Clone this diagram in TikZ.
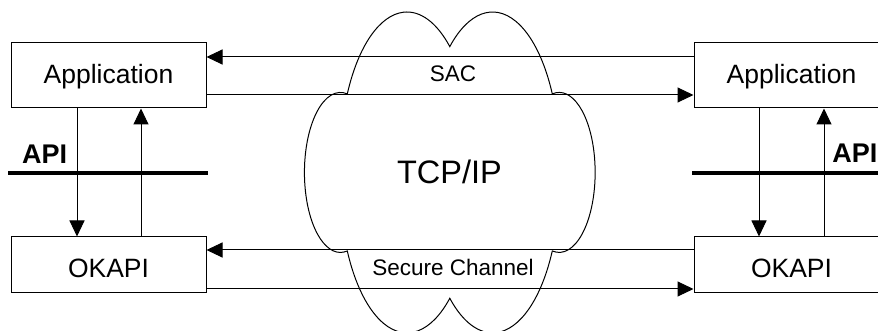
\documentclass[tikz,border=0pt]{standalone}
\usepackage{fontspec}
\setmainfont{Liberation Sans}
\usetikzlibrary{arrows.meta}
\begin{document}
\begin{tikzpicture}[x=1pt,y=1pt,
  box/.style={draw, line width=1pt, minimum width=195pt, inner sep=0pt,
    text depth=0pt, font=\fontsize{26.5}{30}\selectfont},
  appbox/.style={box, minimum height=65pt, text height=17pt},
  okbox/.style={box, minimum height=56pt, text height=26pt},
  arr/.style={line width=1pt, -{Triangle[length=16pt,width=15pt]}},
  apiline/.style={line width=4.3pt},
  chan/.style={anchor=base, inner sep=0pt, font=\fontsize{22.5}{26}\selectfont},
  apitext/.style={inner sep=0pt, font=\bfseries\fontsize{27}{31}\selectfont},
  lobe/.style={x radius=67, y radius=150},
  side/.style={x radius=36, y radius=80},
]
\useasboundingbox (0,0) rectangle (878,331);
\clip (0,0) rectangle (878,331);

% end systems
\node[appbox] (appL) at (108.5,255.5) {Application};
\node[okbox]  (okL)  at (108.5,66)    {OKAPI};
\node[appbox] (appR) at (791.5,255.5) {Application};
\node[okbox]  (okR)  at (791.5,66)    {OKAPI};

% network cloud
\draw[line width=1pt] (347.3,237.1)
  arc[start angle=153,   end angle=50.3,   lobe]
  arc[start angle=129.7, end angle=27,     lobe]
  arc[start angle=101,   end angle=-101,   side]
  arc[start angle=-27,   end angle=-129.7, lobe]
  arc[start angle=-50.3, end angle=-153,   lobe]
  arc[start angle=-79,   end angle=-281,   side]
  -- cycle;
\node[anchor=base, inner sep=0pt, font=\fontsize{32.5}{38}\selectfont] (tcp) at (449.5,147.7) {TCP/IP};
\node[chan] (sac) at (453,249) {SAC};
\node[chan] (sec) at (453,55.3) {Secure Channel};

% API boundaries
\draw[apiline] (8,158.3) -- (208,158.3);
\draw[apiline] (692,158.3) -- (878,158.3);
\node[apitext, anchor=base west] (apiL) at (22,167) {API};
\node[apitext, anchor=base east] (apiR) at (877.5,168) {API};

% channels between the two sides
\draw[arr] ([yshift=18.5pt]appR.west) -- ([yshift=18.5pt]appL.east);
\draw[arr] ([yshift=-19.5pt]appL.east) -- ([yshift=-19.5pt]appR.west);
\draw[arr] ([yshift=15pt]okR.west) -- ([yshift=15pt]okL.east);
\draw[arr] ([yshift=-24pt]okL.east) -- ([yshift=-24pt]okR.west);

% calls across the API
\draw[arr] ([xshift=-31.5pt]appL.south) -- ([xshift=-31.5pt]okL.north);
\draw[arr] ([xshift=32.5pt]okL.north) -- ([xshift=32.5pt]appL.south);
\draw[arr] ([xshift=-32.5pt]appR.south) -- ([xshift=-32.5pt]okR.north);
\draw[arr] ([xshift=32.5pt]okR.north) -- ([xshift=32.5pt]appR.south);
\end{tikzpicture}
\end{document}
